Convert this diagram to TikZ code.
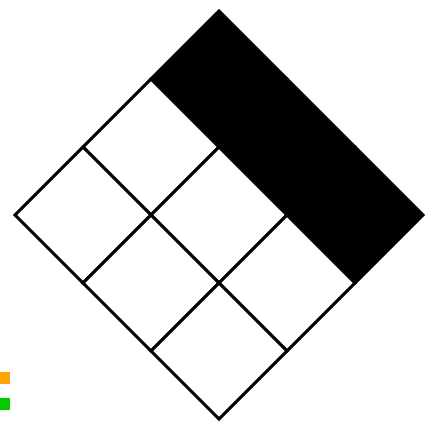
\documentclass[tikz,border=0pt]{standalone}
\begin{document}
\begin{tikzpicture}[x=1pt,y=-1pt,
  blackcell/.style={fill=black,draw=black,line width=3pt,line join=miter},
  whitecell/.style={fill=white,draw=black,line width=3pt,line join=miter},
  legendsq/.style={draw=none}]
\useasboundingbox (0,0) rectangle (433,434);
% corners of the 3x3 rotated grid: top (219,11); u=(68,68), v=(-68,68)
\foreach \i in {0,1,2}{
  \foreach \j in {0,1,2}{
    \pgfmathsetmacro{\tx}{219+68*(\i-\j)}
    \pgfmathsetmacro{\ty}{11+68*(\i+\j)}
    \ifnum\j=0
      \path[blackcell] (\tx,\ty) -- ++(68,68) -- ++(-68,68) -- ++(-68,-68) -- cycle;
    \else
      \path[whitecell] (\tx,\ty) -- ++(68,68) -- ++(-68,68) -- ++(-68,-68) -- cycle;
    \fi
  }
}
\node[legendsq,fill={rgb,255:red,255;green,165;blue,0},minimum width=10pt,minimum height=12pt,inner sep=0pt,anchor=north west] (orange) at (0,372) {};
\node[legendsq,fill={rgb,255:red,0;green,204;blue,0},minimum width=10pt,minimum height=12pt,inner sep=0pt,anchor=north west] (green) at (0,398) {};
\end{tikzpicture}
\end{document}
